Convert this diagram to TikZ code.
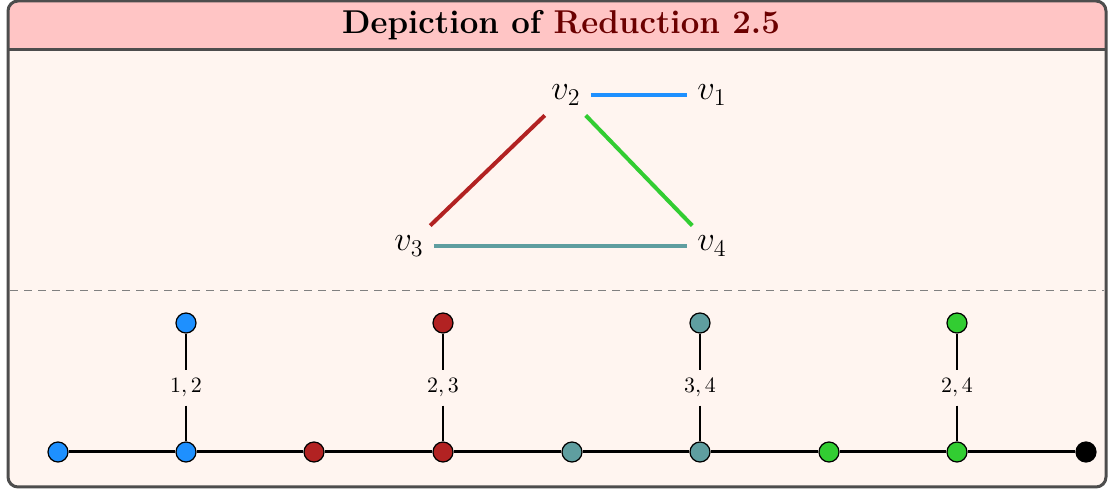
\documentclass[tikz,border=0pt]{standalone}
\usepackage{xcolor}
\definecolor{frameC}{HTML}{4D4D4D}
\definecolor{titleC}{HTML}{FFC5C5}
\definecolor{bodyC}{HTML}{FFF5F0}
\definecolor{redtitle}{HTML}{6B0000}
\definecolor{cBlue}{HTML}{1E90FF}
\definecolor{cRed}{HTML}{B22222}
\definecolor{cTeal}{HTML}{5F9EA0}
\definecolor{cGreen}{HTML}{32CD32}
\begin{document}
\begin{tikzpicture}[x=0.5pt,y=-0.5pt,
  vlab/.style={inner sep=5pt,font=\fontsize{17}{20}\selectfont},
  gedge/.style={line width=2pt},
  dot/.style={circle,draw=black,line width=0.6pt,minimum size=10pt,inner sep=0pt},
  elab/.style={inner sep=4pt,font=\fontsize{11}{13}\selectfont},
  mainline/.style={line width=1.5pt},
  vline/.style={line width=0.9pt}]
\useasboundingbox (0,0) rectangle (1110,491);
% frame
\fill[bodyC,rounded corners=5pt] (8,1) rectangle (1106,487);
\fill[titleC] (8,50) [rounded corners=5pt] -- (8,1) -- (1106,1) [sharp corners] -- (1106,50) -- cycle;
\draw[frameC,line width=1.5pt] (8,50) -- (1106,50);
\draw[frameC,line width=1.5pt,rounded corners=5pt] (8,1) rectangle (1106,487);
\node[font=\fontsize{16.5}{19}\selectfont\bfseries] (title) at (561,25) {Depiction of \textcolor{redtitle}{Reduction 2.5}};
% graph
\node[vlab] (v2) at (566,95) {$v_2$};
\node[vlab] (v1) at (712,95) {$v_1$};
\node[vlab] (v3) at (409,246) {$v_3$};
\node[vlab] (v4) at (712,246) {$v_4$};
\draw[gedge,cBlue] (v2) -- (v1);
\draw[gedge,cRed] (v2) -- (v3);
\draw[gedge,cGreen] (v2) -- (v4);
\draw[gedge,cTeal] (v3) -- (v4);
% dashed separator
\coordinate (dl) at (10,291);
\coordinate (dr) at (1104,291);
\draw[gray,line width=0.5pt,dash pattern=on 4pt off 3pt] (dl) -- (dr);
% bottom path
\foreach \i/\x/\c in {1/58/cBlue,2/186/cBlue,3/314/cRed,4/443/cRed,5/572/cTeal,6/700/cTeal,7/829/cGreen,8/957/cGreen,9/1086/black}
  \node[dot,fill=\c] (b\i) at (\x,452) {};
\foreach \i/\x/\c/\t in {2/186/cBlue/{1,2},4/443/cRed/{2,3},6/700/cTeal/{3,4},8/957/cGreen/{2,4}}{
  \node[dot,fill=\c] (t\i) at (\x,323) {};
  \node[elab] (l\i) at (\x,388) {$\t$};
  \draw[vline] (t\i) -- (l\i);
  \draw[vline] (l\i) -- (b\i);
}
\draw[mainline] (b1) -- (b2) -- (b3) -- (b4) -- (b5) -- (b6) -- (b7) -- (b8) -- (b9);
\end{tikzpicture}
\end{document}
